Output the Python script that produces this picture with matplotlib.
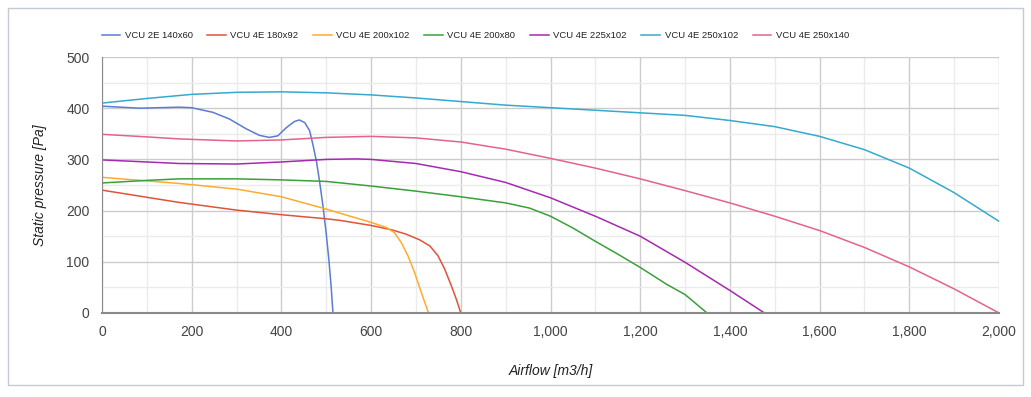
import matplotlib.pyplot as plt
from matplotlib.patches import Rectangle
from matplotlib.ticker import MultipleLocator, FuncFormatter

plt.rcParams['font.family'] = ['Liberation Sans', 'DejaVu Sans']

# Fan curves (airflow m3/h, static pressure Pa)
names = ["VCU 2E 140x60", "VCU 4E 180x92", "VCU 4E 200x102", "VCU 4E 200x80",
         "VCU 4E 225x102", "VCU 4E 250x102", "VCU 4E 250x140"]
colors = ["#5b7bd5", "#e0533a", "#ffab2e", "#3aa03a", "#a42ab0", "#35a9cf", "#e5628f"]

flow_2e140 = [0, 85, 172, 200, 247, 284, 321, 351, 373, 392, 411, 429, 440, 452,
              463, 470, 478, 485, 493, 500, 506, 511, 515]
pres_2e140 = [404, 400, 402, 401, 392, 379, 360, 347, 343, 346, 362, 374, 377, 372,
              356, 330, 297, 258, 207, 155, 103, 51, 0]

flow_180 = [0, 100, 172, 300, 400, 500, 530, 600, 648, 678, 708, 731, 749, 764,
            779, 790, 800]
pres_180 = [240, 226, 216, 201, 192, 184, 181, 171, 162, 154, 143, 131, 112, 86,
            53, 27, 0]

flow_200x102 = [0, 100, 172, 300, 400, 500, 530, 600, 634, 652, 667, 682, 697, 712, 728]
pres_200x102 = [265, 258, 253, 242, 227, 203, 195, 177, 167, 157, 138, 112, 79, 40, 0]

flow_200x80 = [0, 100, 172, 300, 400, 500, 600, 700, 800, 900, 953, 1000, 1050,
               1100, 1150, 1200, 1259, 1300, 1349]
pres_200x80 = [254, 259, 262, 262, 260, 257, 248, 238, 227, 215, 205, 189, 166,
               140, 115, 89, 56, 36, 0]

flow_225 = [0, 100, 172, 300, 400, 500, 567, 600, 700, 800, 900, 1000, 1100, 1200,
            1300, 1400, 1477]
pres_225 = [299, 295, 292, 291, 295, 300, 301, 300, 292, 276, 255, 225, 189, 150,
            99, 44, 0]

flow_250x102 = [0, 100, 200, 300, 400, 500, 600, 700, 800, 900, 1000, 1100, 1200,
                1300, 1400, 1500, 1600, 1700, 1800, 1900, 2000]
pres_250x102 = [410, 419, 427, 431, 432, 430, 426, 420, 413, 406, 401, 396, 391,
                386, 376, 364, 345, 319, 283, 235, 179]

flow_250x140 = [0, 100, 172, 300, 400, 500, 600, 700, 800, 900, 1000, 1100, 1200,
                1300, 1400, 1500, 1600, 1700, 1800, 1900, 2000]
pres_250x140 = [349, 344, 340, 336, 338, 343, 345, 342, 334, 320, 302, 283, 262,
                239, 215, 189, 161, 128, 90, 47, 0]

flows = [flow_2e140, flow_180, flow_200x102, flow_200x80, flow_225, flow_250x102, flow_250x140]
pressures = [pres_2e140, pres_180, pres_200x102, pres_200x80, pres_225, pres_250x102, pres_250x140]

fig = plt.figure(figsize=(10.31, 3.97), dpi=100)
ax = fig.add_axes([0.0989, 0.2116, 0.8701, 0.6448])

# outer frame around the whole chart
fig.patches.append(Rectangle((8 / 1031, 12 / 397), 1015 / 1031, 377 / 397,
                             transform=fig.transFigure, fill=False,
                             edgecolor="#c6c8d2", linewidth=1.0))

for name, col, fl, pr in zip(names, colors, flows, pressures):
    ax.plot(fl, pr, color=col, linewidth=1.1, label=name, solid_joinstyle="round")

ax.set_xlim(0, 2000)
ax.set_ylim(0, 500)
ax.xaxis.set_major_locator(MultipleLocator(200))
ax.xaxis.set_minor_locator(MultipleLocator(100))
ax.yaxis.set_major_locator(MultipleLocator(100))
ax.yaxis.set_minor_locator(MultipleLocator(50))
ax.xaxis.set_major_formatter(FuncFormatter(lambda v, p: f"{int(v):,}"))

ax.grid(which="major", color="#cccccc", linewidth=1.0)
ax.grid(which="minor", color="#ebebeb", linewidth=1.0)
ax.set_axisbelow(True)

for side in ["top", "right"]:
    ax.spines[side].set_visible(False)
ax.spines["left"].set_color("#8a8a8a")
ax.spines["bottom"].set_color("#8a8a8a")
ax.spines["bottom"].set_linewidth(1.5)

ax.tick_params(which="both", length=0, labelsize=10, colors="#444444", pad=9)

ax.set_xlabel("Airflow [m3/h]", fontsize=10, style="italic", color="#222222", labelpad=18)
ax.set_ylabel("Static pressure [Pa]", fontsize=10, style="italic", color="#222222", labelpad=14)

fig.legend(loc="center left", bbox_to_anchor=(93 / 1031, 1 - 36 / 397), ncol=7,
           frameon=False, fontsize=6.8, handlelength=2.0, handletextpad=0.45,
           columnspacing=1.55, labelcolor="#222222")

fig.savefig("out.png", dpi=100)
